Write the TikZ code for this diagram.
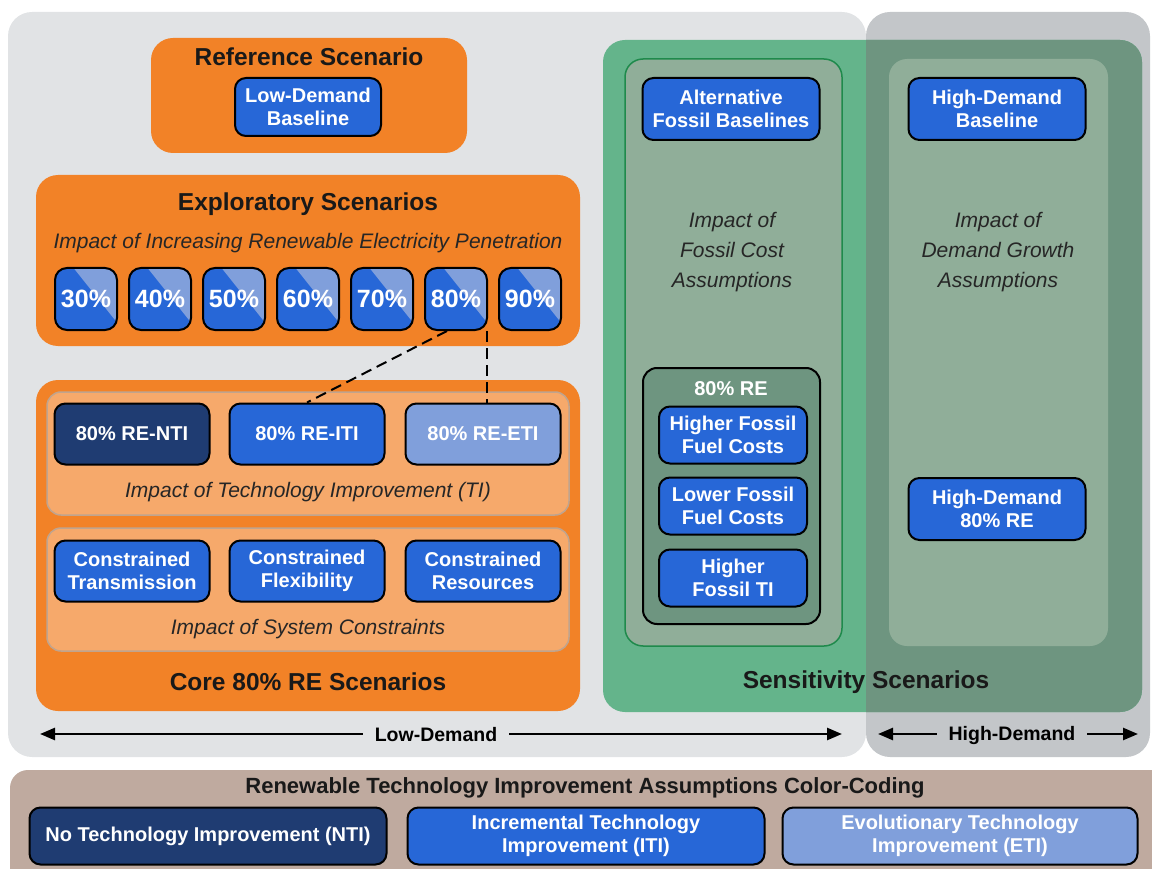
\documentclass[tikz,border=0pt]{standalone}
\usepackage{fontspec}
\setmainfont{Liberation Sans}
\usetikzlibrary{positioning,calc,arrows.meta}

\definecolor{lowgray}{HTML}{E1E3E5}
\definecolor{highgray}{HTML}{C3C6C9}
\definecolor{scenorange}{HTML}{F28227}
\definecolor{paleorange}{HTML}{F6A96B}
\definecolor{panelline}{HTML}{C0A48E}
\definecolor{itiblue}{HTML}{2767D7}
\definecolor{ntiblue}{HTML}{1F3C72}
\definecolor{etiblue}{HTML}{809FDB}
\definecolor{sensgreen}{HTML}{64B48B}
\definecolor{sensdark}{HTML}{6E9580}
\definecolor{colgreen}{HTML}{90AE99}
\definecolor{linegreen}{HTML}{1F8A4C}
\definecolor{legendbrown}{HTML}{BFAA9F}
\definecolor{italgray}{HTML}{262626}

\newcommand\bxfont{\fontsize{20}{23}\selectfont\bfseries}
\newcommand\ttlfont{\fontsize{24.5}{28}\selectfont\bfseries}
\newcommand\itfont{\fontsize{21}{30}\selectfont\itshape}

\begin{document}
\begin{tikzpicture}[x=1pt,y=-1pt,
    box/.style={draw=black, line width=2, rounded corners=11, fill=itiblue,
      text=white, font=\bxfont, align=center, inner sep=2pt,
      minimum width=155, minimum height=61},
    pct/.style={box, minimum width=62, minimum height=62, rounded corners=12,
      font=\fontsize{25}{28}\selectfont\bfseries,
      path picture={\fill[etiblue, sharp corners]
        ($(path picture bounding box.north west)!0.3!(path picture bounding box.north east)$)
        -- (path picture bounding box.north east)
        -- ($(path picture bounding box.north east)!0.88!(path picture bounding box.south east)$)
        -- cycle;}},
    title/.style={font=\ttlfont, text=black!90},
    impact/.style={font=\itfont, text=italgray, align=center},
    dashline/.style={line width=2, dash pattern=on 11pt off 6pt},
    demandarrow/.style={line width=2.5, {Triangle[length=15pt,width=12pt]}-{Triangle[length=15pt,width=12pt]}},
    demandlabel/.style={font=\fontsize{19.5}{22}\selectfont\bfseries, inner xsep=12pt}]
\useasboundingbox (0,0) rectangle (1152,869);
\clip (0,0) rectangle (1152,869);

% low / high demand backgrounds
\fill[lowgray, rounded corners=24] (8,12) rectangle (866,757);
\fill[highgray, rounded corners=24] (866,12) rectangle (1150,757);

% sensitivity scenarios
\fill[sensgreen, rounded corners=22] (603,40) rectangle (1142,712);
\begin{scope}
  \clip (866,0) rectangle (1152,869);
  \fill[sensdark, rounded corners=22] (603,40) rectangle (1142,712);
\end{scope}
\filldraw[fill=colgreen, draw=linegreen, line width=1.5, rounded corners=18] (625,59) rectangle (842,646);
\fill[colgreen, rounded corners=18] (889,59) rectangle (1108,646);
\node[title] (sens) at (866,682) {Sensitivity Scenarios};

\node[box, minimum width=177, minimum height=62] (altfossil) at (731,109) {Alternative\\Fossil Baselines};
\node[box, minimum width=177, minimum height=62] (hdbase) at (997,109) {High-Demand\\Baseline};
\node[impact] (fossilimpact) at (732,252) {Impact of\\Fossil Cost\\Assumptions};
\node[impact] (demandimpact) at (998,252) {Impact of\\Demand Growth\\Assumptions};

\filldraw[fill=sensdark, draw=black, line width=2, rounded corners=14] (643,368) rectangle (820,624);
\node[font=\bxfont, text=white] (re80) at (731,389) {80\% RE};
\node[box, minimum width=148, minimum height=57] (hiffc) at (733,435) {Higher Fossil\\Fuel Costs};
\node[box, minimum width=148, minimum height=57] (loffc) at (733,506) {Lower Fossil\\Fuel Costs};
\node[box, minimum width=148, minimum height=57] (hifti) at (733,578) {Higher\\Fossil TI};
\node[box, minimum width=177, minimum height=62] (hd80) at (997,509) {High-Demand\\80\% RE};

% reference scenario
\fill[scenorange, rounded corners=22] (151,38) rectangle (467,153);
\node[title] (reftitle) at (309,57) {Reference Scenario};
\node[box, minimum width=146, minimum height=58] (lowbase) at (308,107) {Low-Demand\\Baseline};

% exploratory scenarios
\fill[scenorange, rounded corners=22] (36,175) rectangle (580,346);
\node[title] (exptitle) at (308,204) {Exploratory Scenarios};
\node[impact] (expimpact) at (308,243) {Impact of Increasing Renewable Electricity Penetration};
\foreach \p [count=\i from 0] in {30,40,50,60,70,80,90}
  \node[pct] (p\p) at (86+74*\i,299) {\p\%};

% core 80% RE scenarios
\fill[scenorange, rounded corners=22] (36,380) rectangle (580,711);
\filldraw[fill=paleorange, draw=panelline, line width=1.5, rounded corners=14] (47,392) rectangle (569,515);
\filldraw[fill=paleorange, draw=panelline, line width=1.5, rounded corners=14] (47,528) rectangle (569,651);
\node[box, fill=ntiblue] (nti) at (132,434) {80\% RE-NTI};
\node[box] (iti) at (307,434) {80\% RE-ITI};
\node[box, fill=etiblue] (eti) at (483,434) {80\% RE-ETI};
\node[impact] (tiimpact) at (308,492) {Impact of Technology Improvement (TI)};
\node[box] (contrans) at (132,571) {Constrained\\Transmission};
\node[box] (conflex) at (307,571) {Constrained\\Flexibility};
\node[box] (conres) at (483,571) {Constrained\\Resources};
\node[impact] (sysimpact) at (308,629) {Impact of System Constraints};
\node[title] (coretitle) at (308,682) {Core 80\% RE Scenarios};

\draw[dashline] ([xshift=-9]p80.south) -- (iti.north);
\draw[dashline] ([xshift=-1]p80.south east) -- ([xshift=-1]p80.south east |- eti.north);

% demand arrows
\coordinate (ldwest) at (40,734);
\coordinate (ldeast) at (842,734);
\draw[demandarrow] (ldwest) -- (ldeast);
\node[demandlabel, fill=lowgray] (ldlabel) at (436,735) {Low-Demand};
\coordinate (hdwest) at (878,734);
\coordinate (hdeast) at (1138,734);
\draw[demandarrow] (hdwest) -- (hdeast);
\node[demandlabel, fill=highgray] (hdlabel) at (1012,735) {High-Demand};

% colour coding
\fill[legendbrown, rounded corners=18] (10,770) rectangle (1170,900);
\node[font=\fontsize{22}{26}\selectfont\bfseries, text=black!90] (legtitle) at (585,788) {Renewable Technology Improvement Assumptions Color-Coding};
\node[box, fill=ntiblue, minimum width=357, minimum height=57] (legnti) at (208,836) {No Technology Improvement (NTI)};
\node[box, minimum width=357, minimum height=57] (legiti) at (586,836) {Incremental Technology\\Improvement (ITI)};
\node[box, fill=etiblue, minimum width=355, minimum height=57] (legeti) at (960,836) {Evolutionary Technology\\Improvement (ETI)};
\end{tikzpicture}
\end{document}
